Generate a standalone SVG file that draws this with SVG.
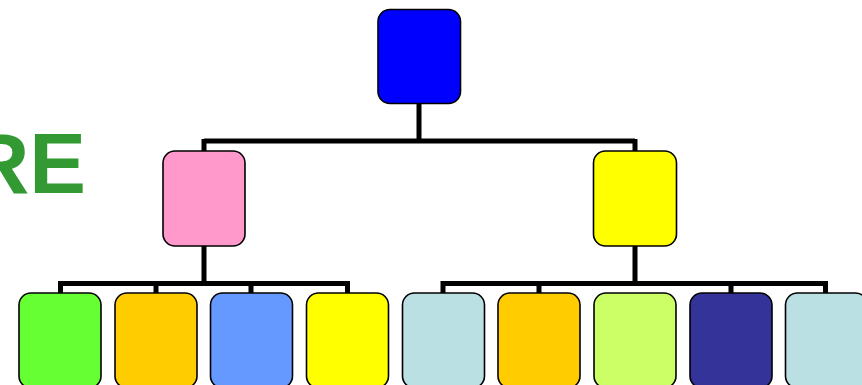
<svg xmlns="http://www.w3.org/2000/svg" width="862" height="385" viewBox="0 0 862 385">
<style>
.n{stroke:#000;stroke-width:1.6}
.c{stroke:#000;stroke-width:5;fill:none;stroke-linecap:butt}
.t{font-family:"Liberation Sans",Arial,sans-serif;font-weight:bold;fill:#339933}
</style>
<rect width="862" height="385" fill="#fff"/>
<text class="t" x="86" y="193" font-size="85" text-anchor="end">RE</text>
<g id="connectors">
<path class="c" d="M419,103V141M204,141H635M204,139V152M635,139V152"/>
<path class="c" d="M204,245V283.5M58,283.5H350M60.5,281V294M156,281V294M251,281V294M347.5,281V294"/>
<path class="c" d="M635,245V283.5M440.5,283.5H828M443,281V294M539,281V294M731,281V294M825.5,281V294"/>
</g>
<g id="root"><rect class="n" x="378" y="9.5" width="82.5" height="94" rx="12" fill="#0000FF"/></g>
<g id="left"><rect class="n" x="163" y="151" width="82" height="95" rx="12" fill="#FF99CC"/></g>
<g id="right"><rect class="n" x="593.5" y="151" width="83" height="95" rx="12" fill="#FFFF00"/></g>
<g id="b1"><rect class="n" x="19" y="293" width="82" height="95" rx="12" fill="#66FF33"/></g>
<g id="b2"><rect class="n" x="115" y="293" width="82" height="95" rx="12" fill="#FFCC00"/></g>
<g id="b3"><rect class="n" x="210.5" y="293" width="82" height="95" rx="12" fill="#6699FF"/></g>
<g id="b4"><rect class="n" x="306.5" y="293" width="82" height="95" rx="12" fill="#FFFF00"/></g>
<g id="b5"><rect class="n" x="402.5" y="293" width="82" height="95" rx="12" fill="#BBE0E3"/></g>
<g id="b6"><rect class="n" x="498" y="293" width="82" height="95" rx="12" fill="#FFCC00"/></g>
<g id="b7"><rect class="n" x="594" y="293" width="82" height="95" rx="12" fill="#CCFF66"/></g>
<g id="b8"><rect class="n" x="690" y="293" width="82" height="95" rx="12" fill="#333399"/></g>
<g id="b9"><rect class="n" x="785.5" y="293" width="82" height="95" rx="12" fill="#BBE0E3"/></g>
</svg>
